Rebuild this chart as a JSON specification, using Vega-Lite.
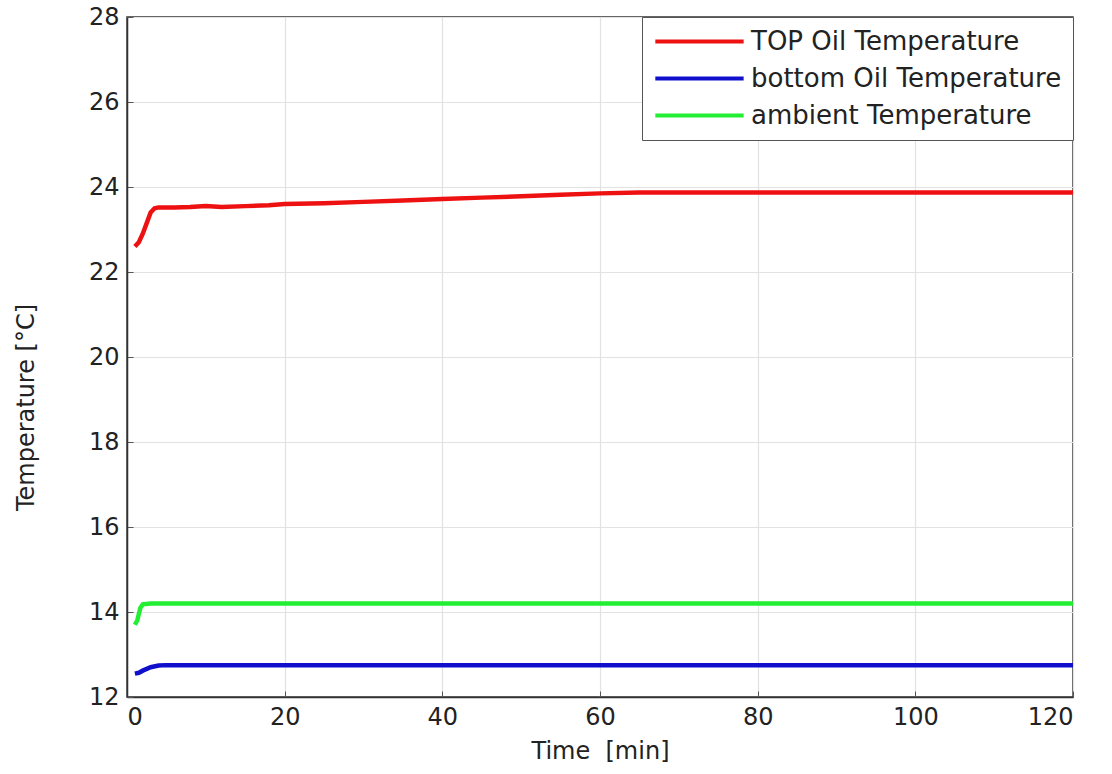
{
  "$schema": "https://vega.github.io/schema/vega-lite/v6.json",
  "autosize": "none",
  "width": 946,
  "height": 680,
  "padding": {"left": 127, "top": 17, "right": 39, "bottom": 77},
  "background": "white",
  "config": {
    "font": "DejaVu Sans",
    "view": {"stroke": "#333333", "strokeWidth": 1.5}
  },
  "data": {
    "values": [
      {"t": 1, "v": 22.6, "s": "TOP Oil Temperature"},
      {"t": 1.5, "v": 22.7, "s": "TOP Oil Temperature"},
      {"t": 2, "v": 22.9, "s": "TOP Oil Temperature"},
      {"t": 2.5, "v": 23.15, "s": "TOP Oil Temperature"},
      {"t": 3, "v": 23.4, "s": "TOP Oil Temperature"},
      {"t": 3.5, "v": 23.5, "s": "TOP Oil Temperature"},
      {"t": 4, "v": 23.52, "s": "TOP Oil Temperature"},
      {"t": 6, "v": 23.52, "s": "TOP Oil Temperature"},
      {"t": 8, "v": 23.53, "s": "TOP Oil Temperature"},
      {"t": 10, "v": 23.55, "s": "TOP Oil Temperature"},
      {"t": 12, "v": 23.53, "s": "TOP Oil Temperature"},
      {"t": 15, "v": 23.55, "s": "TOP Oil Temperature"},
      {"t": 18, "v": 23.57, "s": "TOP Oil Temperature"},
      {"t": 20, "v": 23.6, "s": "TOP Oil Temperature"},
      {"t": 25, "v": 23.62, "s": "TOP Oil Temperature"},
      {"t": 30, "v": 23.65, "s": "TOP Oil Temperature"},
      {"t": 35, "v": 23.68, "s": "TOP Oil Temperature"},
      {"t": 40, "v": 23.72, "s": "TOP Oil Temperature"},
      {"t": 45, "v": 23.75, "s": "TOP Oil Temperature"},
      {"t": 50, "v": 23.78, "s": "TOP Oil Temperature"},
      {"t": 55, "v": 23.82, "s": "TOP Oil Temperature"},
      {"t": 60, "v": 23.85, "s": "TOP Oil Temperature"},
      {"t": 65, "v": 23.87, "s": "TOP Oil Temperature"},
      {"t": 80, "v": 23.87, "s": "TOP Oil Temperature"},
      {"t": 100, "v": 23.87, "s": "TOP Oil Temperature"},
      {"t": 120, "v": 23.87, "s": "TOP Oil Temperature"},
      {"t": 1, "v": 12.55, "s": "bottom Oil Temperature"},
      {"t": 1.5, "v": 12.57, "s": "bottom Oil Temperature"},
      {"t": 2, "v": 12.62, "s": "bottom Oil Temperature"},
      {"t": 3, "v": 12.7, "s": "bottom Oil Temperature"},
      {"t": 4, "v": 12.74, "s": "bottom Oil Temperature"},
      {"t": 5, "v": 12.75, "s": "bottom Oil Temperature"},
      {"t": 60, "v": 12.75, "s": "bottom Oil Temperature"},
      {"t": 120, "v": 12.75, "s": "bottom Oil Temperature"},
      {"t": 1, "v": 13.7, "s": "ambient Temperature"},
      {"t": 1.3, "v": 13.8, "s": "ambient Temperature"},
      {"t": 1.7, "v": 14.1, "s": "ambient Temperature"},
      {"t": 2, "v": 14.18, "s": "ambient Temperature"},
      {"t": 3, "v": 14.2, "s": "ambient Temperature"},
      {"t": 60, "v": 14.2, "s": "ambient Temperature"},
      {"t": 120, "v": 14.2, "s": "ambient Temperature"}
    ]
  },
  "mark": {"type": "line", "strokeWidth": 4.5},
  "encoding": {
    "x": {
      "field": "t", "type": "quantitative",
      "scale": {"domain": [0, 120], "nice": false},
      "axis": {
        "title": "Time\u00a0\u00a0[min]", "values": [0, 20, 40, 60, 80, 100, 120],
        "titleFontSize": 24, "titleFontWeight": "normal", "titleColor": "#222",
        "titlePadding": 10,
        "labelFontSize": 24, "labelColor": "#222", "labelPadding": 14,
        "tickSize": -6, "tickColor": "#555", "domainColor": "#333", "domainWidth": 1.5,
        "gridColor": "#e2e2e2", "gridWidth": 1.2
      }
    },
    "y": {
      "field": "v", "type": "quantitative",
      "scale": {"domain": [12, 28], "nice": false, "zero": false},
      "axis": {
        "title": "Temperature [°C]", "values": [12, 14, 16, 18, 20, 22, 24, 26, 28],
        "titleFontSize": 24, "titleFontWeight": "normal", "titleColor": "#222",
        "titlePadding": 50, "titleY": 390,
        "labelFontSize": 24, "labelColor": "#222", "labelPadding": 14,
        "tickSize": -6, "tickColor": "#555", "domainColor": "#333", "domainWidth": 1.5,
        "gridColor": "#e2e2e2", "gridWidth": 1.2
      }
    },
    "color": {
      "field": "s", "type": "nominal",
      "scale": {
        "domain": ["TOP Oil Temperature", "bottom Oil Temperature", "ambient Temperature"],
        "range": ["#ee1111", "#1010cc", "#22ee33"]
      },
      "legend": {
        "title": null,
        "orient": "top-right",
        "offset": 0,
        "symbolType": "M-1,0H6.9",
        "symbolSize": 500,
        "symbolStrokeWidth": 4,
        "labelFontSize": 26,
        "labelColor": "#222",
        "labelOffset": 71,
        "labelLimit": 500,
        "rowPadding": 10,
        "padding": 11,
        "strokeColor": "#555",
        "fillColor": "white"
      }
    }
  }
}
